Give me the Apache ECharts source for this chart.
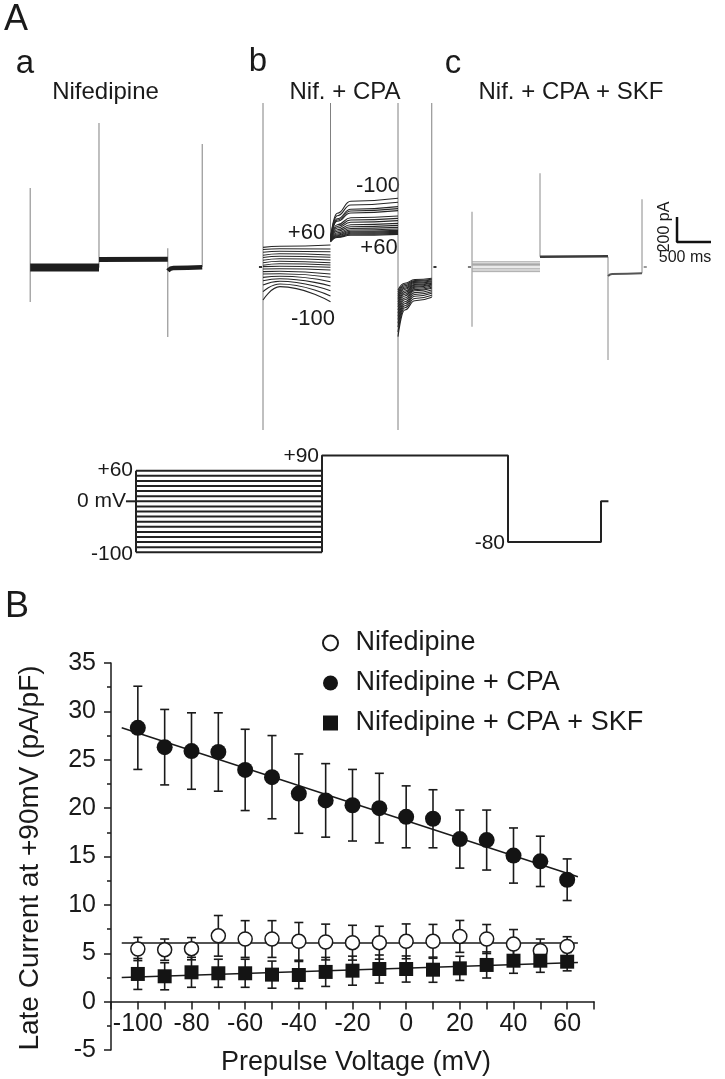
<!DOCTYPE html>
<html><head><meta charset="utf-8">
<script src="https://cdn.jsdelivr.net/npm/echarts@6/dist/echarts.min.js"></script>
<style>html,body{margin:0;padding:0;background:#fff}#c{width:725px;height:1079px}</style>
</head><body><div id="c"></div>
<script>
// ---------- Panel B data ----------
const prepulse = [-100,-90,-80,-70,-60,-50,-40,-30,-20,-10,0,10,20,30,40,50,60];
const nifMean = [5.44,5.37,5.47,6.8,6.47,6.47,6.23,6.16,6.09,6.09,6.23,6.23,6.74,6.47,5.95,5.27,5.71];
const nifSem  = [1.2,1.1,1.15,2.1,1.9,1.9,1.95,1.85,1.8,1.7,1.8,1.75,1.65,1.5,1.5,1.2,1.0];
const cpaMean = [28.3,26.3,25.9,25.8,23.95,23.2,21.5,20.8,20.3,20.0,19.1,18.9,16.8,16.7,15.1,14.5,12.6];
const cpaSem  = [4.3,3.9,3.95,4.05,4.2,4.3,4.1,3.8,3.7,3.6,3.2,3.0,3.0,3.1,2.85,2.6,2.15];
const skfMean = [2.86,2.62,3.03,2.93,2.93,2.79,2.75,3.07,3.2,3.37,3.37,3.3,3.44,3.79,4.23,4.23,4.13];
const skfSem  = [1.6,1.4,1.55,1.45,1.45,1.4,1.4,1.5,1.5,1.45,1.35,1.3,1.25,1.35,1.3,1.2,0.95];
const fitX   = [-106, 64];
const nifFit = [6.05, 6.05];
const cpaFit = [28.3, 12.9];
const skfFit = [2.5, 4.05];
const xTickLabels = [-100,-80,-60,-40,-20,0,20,40,60];
const seriesNames = ['Nifedipine','Nifedipine + CPA','Nifedipine + CPA + SKF'];

// ---------- Panel A traces (time ms, current pA) ----------
const spikeT = [0,1000,2000,2500];
const aSpikeTop    = [632,1152,150,984];
const aSpikeBottom = [-280,-5,-560,0];
const aBand1T = [0,1000],        aBand1I = [-4,-4];
const aBand2T = [1000,2000],     aBand2I = [60,62];
const aBand3T = [2000,2080,2500],aBand3I = [-30,-8,-2];

const bSpikeTop    = [1312,1312,1312,1312];
const bSpikeBottom = [-1304,200,-1304,-240];
const bSeg1T = [0,250,1000];
const bSeg1Start = [157,140,118,94,76,54,34,14,3,-16,-37,-56,-83,-110,-144,-197,-264];
const bSeg1Mid   = [166,146,126,106,86,66,46,26,6,-14,-34,-54,-74,-94,-114,-136,-157];
const bSeg1End   = [176,144,122,96,78,56,34,16,-2,-24,-56,-82,-118,-152,-190,-232,-278];
const bSeg2T = [1000,1100,1300,2000];
const bSeg2Start = [200,204,208,210,212,214,216,218,220,222,224,226,228,230,230,232,232];
const bSeg2Early = [236,240,244,250,256,264,274,286,298,312,324,338,366,376,386,410,430];
const bSeg2Mid   = [254,262,270,278,286,296,308,322,338,358,376,394,432,448,462,496,526];
const bSeg2End   = [261,269,277,285,293,304,317,333,349,371,389,408,451,467,483,518,550];
const bSeg3T = [2000,2100,2250,2500];
const bSeg3Start = [-184,-200,-215,-230,-245,-260,-280,-300,-320,-345,-370,-395,-420,-450,-480,-520,-557];
const bSeg3Early = [-130,-140,-150,-160,-170,-180,-192,-205,-218,-232,-248,-262,-278,-294,-310,-326,-344];
const bSeg3Mid   = [-100,-108,-115,-123,-130,-139,-145,-154,-161,-170,-181,-190,-205,-220,-234,-252,-270];
const bSeg3End   = [-90,-98,-104,-112,-118,-126,-130,-138,-144,-152,-162,-170,-184,-198,-210,-226,-242];
const baseBeforeT = [-60,-15], baseAfterT = [2525,2570], baseI = [0,0];

const cSpikeTop    = [442,750,82,542];
const cSpikeBottom = [-478,82,-744,-50];
const cSeg1Levels = [42,30,20,10,-10,-24,-37];
const cSeg1T = [0,1000];
const cSeg2T = [1000,2000], cSeg2I = [82,86];
const cSeg3T = [2000,2060,2500], cSeg3I = [-72,-56,-50];
const scaleBarT = [3015,3015,3515], scaleBarI = [400,200,200];

// ---------- Voltage protocol (ms, mV) ----------
const protoLevels = [60,50,40,30,20,10,0,-10,-20,-30,-40,-50,-60,-70,-80,-90,-100];
const protoStackT = [0,1000];
const protoLeftT = [0,0],  protoLeftV = [-100,60];
const protoPathT = [1000,1000,2000,2000,2500,2500,2540];
const protoPathV = [-100,90,90,-80,-80,0,0];
const protoTickT = [-54,0], protoTickV = [0,0];

// ---------- build ----------
const FONT = "'Liberation Sans', Arial, Helvetica, sans-serif";
const INK = '#1a1a1a';
const zip = (t, v) => t.map((x, i) => [x, v[i]]);
const series = [];

function poly(g, pts, color, width, smooth) {
  const s = {type:'line', xAxisIndex:g, yAxisIndex:g, data:pts, symbol:'none', showSymbol:false,
    lineStyle:{color:color, width:width}, silent:true, clip:false, z:2, animation:false};
  if (smooth) { s.smooth = 0.5; s.smoothMonotone = 'x'; }
  series.push(s);
}
// panel a
spikeT.forEach((t,i) => poly(1, [[t,aSpikeBottom[i]],[t,aSpikeTop[i]]], '#808080', 1));
poly(1, zip(aBand1T, aBand1I), '#1e1e1e', 8);
poly(1, zip(aBand2T, aBand2I), '#1e1e1e', 5);
poly(1, zip(aBand3T, aBand3I), '#1e1e1e', 4.5, true);
// panel b
spikeT.forEach((t,i) => poly(2, [[t,bSpikeBottom[i]],[t,bSpikeTop[i]]], '#808080', 1));
poly(2, zip(baseBeforeT, baseI), '#333', 2);
poly(2, zip(baseAfterT, baseI), '#333', 2);
const bSegs = [
  [bSeg1T, [bSeg1Start,bSeg1Mid,bSeg1End]],
  [bSeg2T, [bSeg2Start,bSeg2Early,bSeg2Mid,bSeg2End]],
  [bSeg3T, [bSeg3Start,bSeg3Early,bSeg3Mid,bSeg3End]]
];
for (let k = 0; k < bSeg1Start.length; k++) {
  bSegs.forEach(([ts, cols]) => poly(2, ts.map((t,i) => [t, cols[i][k]]), '#262626', 1.1, true));
}
// panel c
spikeT.forEach((t,i) => poly(3, [[t,cSpikeBottom[i]],[t,cSpikeTop[i]]], '#8a8a8a', 1));
poly(3, zip(baseBeforeT, baseI), '#555', 1.5);
poly(3, zip(baseAfterT, baseI), '#777', 1.5);
cSeg1Levels.forEach(v => poly(3, [[cSeg1T[0],v],[cSeg1T[1],v]], '#a8a8a8', 1));
poly(3, zip(cSeg2T, cSeg2I), '#3a3a3a', 2.5);
poly(3, zip(cSeg3T, cSeg3I), '#555', 2, true);
poly(3, zip(scaleBarT, scaleBarI), '#111', 2.5);
// protocol
protoLevels.forEach(v => poly(4, [[protoStackT[0],v],[protoStackT[1],v]], '#222', 2));
poly(4, zip(protoLeftT, protoLeftV), '#222', 2);
poly(4, zip(protoPathT, protoPathV), '#222', 2);
poly(4, zip(protoTickT, protoTickV), '#222', 2);

// panel B fits
[nifFit, cpaFit, skfFit].forEach(f => {
  series.push({type:'line', xAxisIndex:0, yAxisIndex:0, data:zip(fitX, f), symbol:'none',
    lineStyle:{color:INK, width:1.5}, silent:true, z:1, animation:false});
});
// error bars
function errSeries(mean, sem) {
  return {type:'custom', xAxisIndex:0, yAxisIndex:0, z:2, silent:true, animation:false,
    data: prepulse.map((x,i) => [x, mean[i], sem[i]]),
    encode:{x:0, y:1},
    renderItem: function (params, api) {
      const x = api.value(0), y = api.value(1), e = api.value(2);
      const hi = api.coord([x, y + e]), lo = api.coord([x, y - e]);
      const w = 4.5, st = {stroke: INK, lineWidth: 1.6};
      return {type:'group', children:[
        {type:'line', shape:{x1:hi[0], y1:hi[1], x2:lo[0], y2:lo[1]}, style:st},
        {type:'line', shape:{x1:hi[0]-w, y1:hi[1], x2:hi[0]+w, y2:hi[1]}, style:st},
        {type:'line', shape:{x1:lo[0]-w, y1:lo[1], x2:lo[0]+w, y2:lo[1]}, style:st}
      ]};
    }};
}
series.push(errSeries(nifMean, nifSem), errSeries(cpaMean, cpaSem), errSeries(skfMean, skfSem));
series.push({type:'scatter', name:seriesNames[0], xAxisIndex:0, yAxisIndex:0, z:3, data:zip(prepulse, nifMean),
  symbol:'circle', symbolSize:14, itemStyle:{color:'#fff', borderColor:INK, borderWidth:1.5, opacity:1}});
series.push({type:'scatter', name:seriesNames[1], xAxisIndex:0, yAxisIndex:0, z:3, data:zip(prepulse, cpaMean),
  symbol:'circle', symbolSize:16, itemStyle:{color:'#141414', opacity:1}});
series.push({type:'scatter', name:seriesNames[2], xAxisIndex:0, yAxisIndex:0, z:3, data:zip(prepulse, skfMean),
  symbol:'rect', symbolSize:14, itemStyle:{color:'#141414', opacity:1}});

const hidden = (g, min, max) => ({type:'value', gridIndex:g, min:min, max:max, show:false});
const axLine = {color: INK, width: 1.5};

function txt(text, x, y, size, align, rot) {
  return {type:'text', x:x, y:y, rotation: rot || 0, silent:true,
    style:{text:text, fill:INK, fontSize:size, fontFamily:FONT, align: align || 'center', verticalAlign:'middle'}};
}
const texts = [
  txt('A', 16, 20, 36), txt('B', 17, 607, 36),
  txt('a', 25, 64, 33), txt('b', 258, 62, 33), txt('c', 453, 64, 33),
  txt('Nifedipine', 105.5, 92, 24), txt('Nif. + CPA', 345, 92, 24), txt('Nif. + CPA + SKF', 571, 92, 24),
  txt('-100', 378, 186, 22), txt('+60', 306.5, 232.5, 22), txt('+60', 379, 247.5, 22), txt('-100', 313, 319, 22),
  txt('200 pA', 665, 227, 16, 'center', Math.PI/2), txt('500 ms', 685, 258, 16),
  txt('+60', 133, 470, 21, 'right'), txt('0 mV', 126, 501.5, 21, 'right'), txt('-100', 133, 554, 21, 'right'),
  txt('+90', 319, 456, 21, 'right'), txt('-80', 505, 543, 21, 'right'),
  txt('Late Current at +90mV (pA/pF)', 30, 858, 28, 'center', Math.PI/2),
  txt('Prepulse Voltage (mV)', 356, 1063, 27)
];

const option = {
  animation: false,
  backgroundColor: '#fff',
  textStyle: {fontFamily: FONT},
  grid: [
    {left:111, top:663, width:483, height:387, outerBoundsMode:'none', containLabel:false},
    {left:23.3, top:92, width:185.8, height:350, outerBoundsMode:'none'},
    {left:256.25, top:92, width:182.25, height:350, outerBoundsMode:'none'},
    {left:465.2, top:92, width:251.6, height:350, outerBoundsMode:'none'},
    {left:98.8, top:445.2, width:539.4, height:117.3, outerBoundsMode:'none'}
  ],
  xAxis: [
    {type:'value', gridIndex:0, min:-110, max:70, interval:10, position:'bottom', offset:-48.4,
      axisLine:{show:true, onZero:false, lineStyle:axLine},
      axisTick:{show:true, length:8, lineStyle:axLine},
      axisLabel:{show:true, margin:10, fontSize:25, fontFamily:FONT, color:INK,
        formatter: v => xTickLabels.indexOf(Math.round(v)) >= 0 ? String(Math.round(v)) : ''},
      splitLine:{show:false}},
    hidden(1, -100, 2600), hidden(2, -100, 2600), hidden(3, -100, 3600), hidden(4, -200, 2700)
  ],
  yAxis: [
    {type:'value', gridIndex:0, min:-5, max:35, interval:5,
      axisLine:{show:true, onZero:false, lineStyle:axLine},
      axisTick:{show:true, length:7, lineStyle:axLine},
      minorTick:{show:true, splitNumber:2, length:4, lineStyle:axLine},
      axisLabel:{show:true, margin:15, fontSize:25, fontFamily:FONT, color:INK},
      splitLine:{show:false}, minorSplitLine:{show:false}},
    hidden(1, -1400, 1400), hidden(2, -1400, 1400), hidden(3, -1400, 1400), hidden(4, -120, 110)
  ],
  legend: {
    orient:'vertical', left:322, top:628, padding:0, itemWidth:40, itemHeight:15, itemGap:10,
    selectedMode:false, symbolKeepAspect:true,
    data: [
      {name: seriesNames[0], icon:'circle'},
      {name: seriesNames[1], icon:'circle'},
      {name: seriesNames[2], icon:'path://M0,0L10,0L10,10L0,10Z'}
    ],
    textStyle:{fontSize:27, fontFamily:FONT, color:INK, lineHeight:30}
  },
  graphic: texts,
  series: series
};
const chart = echarts.init(document.getElementById('c'), null, {renderer:'canvas'});
chart.setOption(option);
</script></body></html>
